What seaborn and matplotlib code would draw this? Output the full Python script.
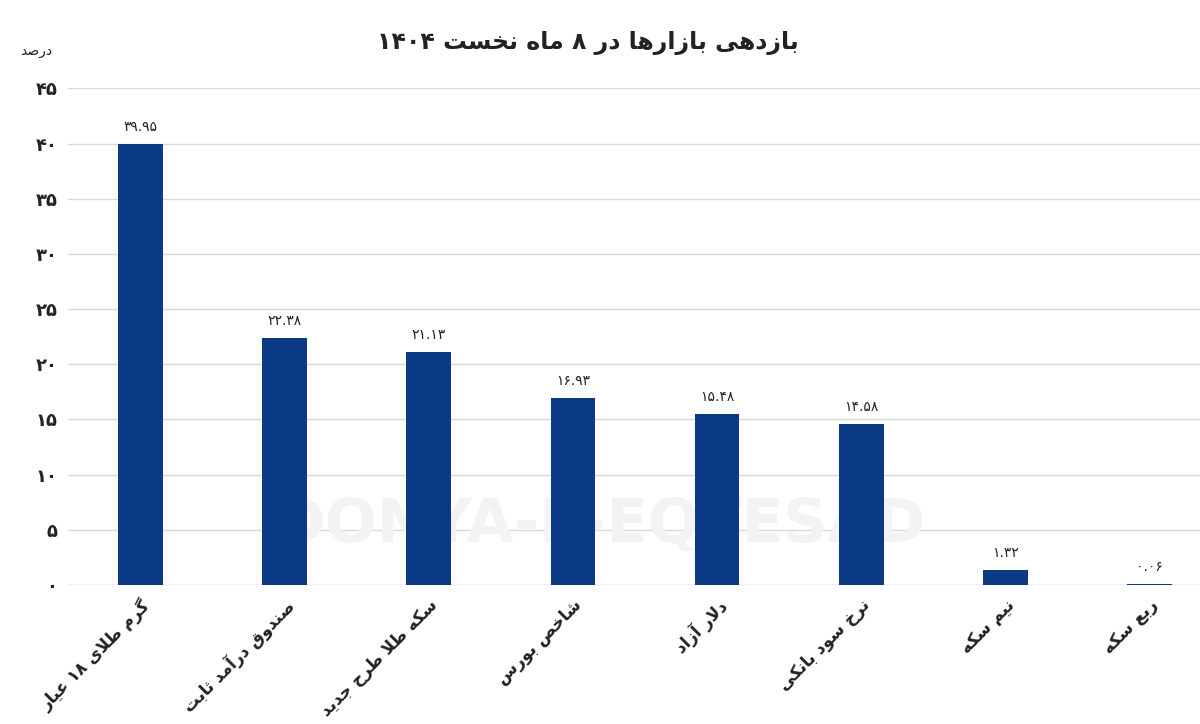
import re
import matplotlib
matplotlib.use('Agg')
import matplotlib.pyplot as plt
import seaborn as sns
import pandas as pd

# ── DATA ─────────────────────────────────────────────
categories = ['گرم طلای ۱۸ عیار', 'صندوق درآمد ثابت', 'سکه طلا طرح جدید', 'شاخص بورس',
              'دلار آزاد', 'نرخ سود بانکی', 'نیم سکه', 'ربع سکه']
values = [39.95, 22.38, 21.13, 16.93, 15.48, 14.58, 1.32, 0.06]
value_labels = ['۳۹.۹۵', '۲۲.۳۸', '۲۱.۱۳', '۱۶.۹۳', '۱۵.۴۸', '۱۴.۵۸', '۱.۳۲', '۰.۰۶']
yticks = [0, 5, 10, 15, 20, 25, 30, 35, 40, 45]
title = 'بازدهی بازارها در ۸ ماه نخست ۱۴۰۴'
unit = 'درصد'

# ── minimal Persian shaping (isolated, final, initial, medial) ──
FORMS = {
    'ا': (0xFE8D, 0xFE8E, None, None), 'آ': (0xFE81, 0xFE82, None, None),
    'ب': (0xFE8F, 0xFE90, 0xFE91, 0xFE92), 'ت': (0xFE95, 0xFE96, 0xFE97, 0xFE98),
    'ث': (0xFE99, 0xFE9A, 0xFE9B, 0xFE9C), 'ج': (0xFE9D, 0xFE9E, 0xFE9F, 0xFEA0),
    'ح': (0xFEA1, 0xFEA2, 0xFEA3, 0xFEA4), 'خ': (0xFEA5, 0xFEA6, 0xFEA7, 0xFEA8),
    'د': (0xFEA9, 0xFEAA, None, None), 'ذ': (0xFEAB, 0xFEAC, None, None),
    'ر': (0xFEAD, 0xFEAE, None, None), 'ز': (0xFEAF, 0xFEB0, None, None),
    'س': (0xFEB1, 0xFEB2, 0xFEB3, 0xFEB4), 'ش': (0xFEB5, 0xFEB6, 0xFEB7, 0xFEB8),
    'ص': (0xFEB9, 0xFEBA, 0xFEBB, 0xFEBC), 'ط': (0xFEC1, 0xFEC2, 0xFEC3, 0xFEC4),
    'ع': (0xFEC9, 0xFECA, 0xFECB, 0xFECC), 'ق': (0xFED5, 0xFED6, 0xFED7, 0xFED8),
    'ل': (0xFEDD, 0xFEDE, 0xFEDF, 0xFEE0), 'م': (0xFEE1, 0xFEE2, 0xFEE3, 0xFEE4),
    'ن': (0xFEE5, 0xFEE6, 0xFEE7, 0xFEE8), 'ه': (0xFEE9, 0xFEEA, 0xFEEB, 0xFEEC),
    'و': (0xFEED, 0xFEEE, None, None), 'ی': (0xFBFC, 0xFBFD, 0xFBFE, 0xFBFF),
    'ک': (0xFB8E, 0xFB8F, 0xFB90, 0xFB91), 'گ': (0xFB92, 0xFB93, 0xFB94, 0xFB95),
}


def shape(text):
    text = text.replace('لا', '\uE000')
    chars = list(text)
    out = []
    for i, c in enumerate(chars):
        prev = chars[i - 1] if i > 0 else None
        nxt = chars[i + 1] if i + 1 < len(chars) else None
        joins_prev = prev in FORMS and FORMS[prev][2] is not None
        if c == '\uE000':
            out.append(chr(0xFEFC if joins_prev else 0xFEFB))
            continue
        if c not in FORMS:
            out.append(c)
            continue
        f = FORMS[c]
        joins_next = f[2] is not None and (nxt in FORMS or nxt == '\uE000')
        if joins_prev and joins_next:
            out.append(chr(f[3]))
        elif joins_prev:
            out.append(chr(f[1]))
        elif joins_next:
            out.append(chr(f[2]))
        else:
            out.append(chr(f[0]))
    s = ''.join(out)[::-1]
    return re.sub(r'[۰-۹.]+', lambda m: m.group(0)[::-1], s)


# ── PLOT ─────────────────────────────────────────────
sns.set_style('white')
plt.rcParams['font.family'] = ['DejaVu Sans']

df = pd.DataFrame({'cat': categories, 'val': values})
fig = plt.figure(figsize=(12, 7.24), dpi=100)
ax = fig.add_axes([0.057, 0.192, 0.943, 0.686])

sns.barplot(data=df, x='cat', y='val', color='#0A3A84', saturation=1, width=0.31,
            linewidth=0, ax=ax, zorder=3)
ax.set_xlim(-0.5, 7.35)
ax.set_ylim(0, 45)
ax.set_yticks(yticks)
ax.set_yticklabels([shape(str(t).translate(str.maketrans('0123456789', '۰۱۲۳۴۵۶۷۸۹'))) for t in yticks],
                   fontsize=13, fontweight='bold', color='#222222')
ax.set_xticks(range(len(categories)))
ax.set_xticklabels([shape(c) for c in categories], rotation=45, ha='right', rotation_mode='anchor',
                   fontsize=12, fontweight='bold', color='#222222')
ax.tick_params(axis='both', length=0, pad=8)
ax.yaxis.grid(True, color='#d9d9d9', linewidth=1, zorder=0)
for s in ax.spines.values():
    s.set_visible(False)
ax.axhline(0, color='#d9d9d9', linewidth=1, zorder=1)
ax.set_xlabel('')
ax.set_ylabel('')

for i, (v, lab) in enumerate(zip(values, value_labels)):
    ax.text(i, v + 0.9, shape(lab), ha='center', va='bottom', fontsize=10, color='#222222', zorder=4)

# watermark, behind the bars
ax.text(0.47, 0.12, 'DONYA-E-EQTESAD', transform=ax.transAxes, fontsize=44, fontweight='bold',
        color='#f3f3f3', ha='center', va='center', zorder=1)

fig.text(0.49, 0.94, shape(title), ha='center', va='center', fontsize=17, fontweight='bold', color='#222222')
fig.text(0.03, 0.93, shape(unit), ha='center', va='center', fontsize=10, color='#222222')

plt.savefig('out.png', dpi=100)
